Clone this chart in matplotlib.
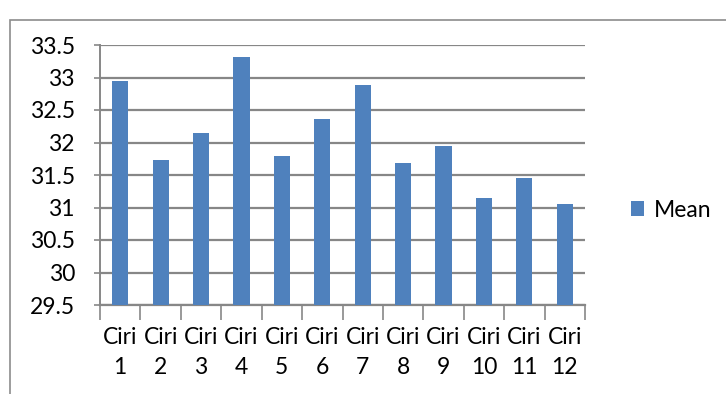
import matplotlib.pyplot as plt
from matplotlib.patches import Rectangle

# Data
categories = ['Ciri\n1', 'Ciri\n2', 'Ciri\n3', 'Ciri\n4', 'Ciri\n5', 'Ciri\n6',
              'Ciri\n7', 'Ciri\n8', 'Ciri\n9', 'Ciri\n10', 'Ciri\n11', 'Ciri\n12']
mean_values = [32.94, 31.73, 32.15, 33.31, 31.79, 32.36,
               32.89, 31.68, 31.94, 31.15, 31.46, 31.05]
y_ticks = [29.5, 30, 30.5, 31, 31.5, 32, 32.5, 33, 33.5]
y_labels = ['29.5', '30', '30.5', '31', '31.5', '32', '32.5', '33', '33.5']

plt.rcParams['font.family'] = ['Lato', 'DejaVu Sans']

W, H = 726, 394
fig = plt.figure(figsize=(W / 100, H / 100), dpi=100)
ax = fig.add_axes([100 / W, 1 - 305 / H, 485 / W, 260 / H])

# outer chart border
fig.patches.append(Rectangle((10 / W, -0.1), 1.2, 1 - 20 / H + 0.1,
                             transform=fig.transFigure, fill=False,
                             edgecolor='#8c8c8c', linewidth=1.2))

x = list(range(len(categories)))
ax.bar(x, [v - 29.5 for v in mean_values], bottom=29.5, width=0.4,
       color='#4F81BD', label='Mean', zorder=3)

ax.set_xlim(-0.5, len(categories) - 0.5)
ax.set_ylim(29.5, 33.5)
ax.set_yticks(y_ticks)
ax.set_yticklabels(y_labels, fontsize=16.5)
ax.yaxis.grid(True, color='#878787', linewidth=1.6, zorder=0)
ax.tick_params(axis='y', length=4, width=1.2, color='#878787', pad=14)

# category labels at centres, tick marks at boundaries
ax.set_xticks(x)
ax.set_xticklabels(categories, fontsize=16.5, linespacing=1.5)
ax.tick_params(axis='x', length=0, pad=16)
ax.set_xticks([i - 0.5 for i in range(len(categories) + 1)], minor=True)
ax.tick_params(axis='x', which='minor', length=11, width=1.2, color='#878787')

for s in ['top', 'right']:
    ax.spines[s].set_visible(False)
ax.spines['left'].set_color('#878787')
ax.spines['left'].set_linewidth(1.4)
ax.spines['bottom'].set_color('#878787')
ax.spines['bottom'].set_linewidth(1.6)

ax.legend(loc='center left', bbox_to_anchor=(610 / W, 1 - 210 / H),
          bbox_transform=fig.transFigure, frameon=False, fontsize=16.5,
          handlelength=0.6, handleheight=0.6, handletextpad=0.4)

fig.savefig('out.png', dpi=100)
